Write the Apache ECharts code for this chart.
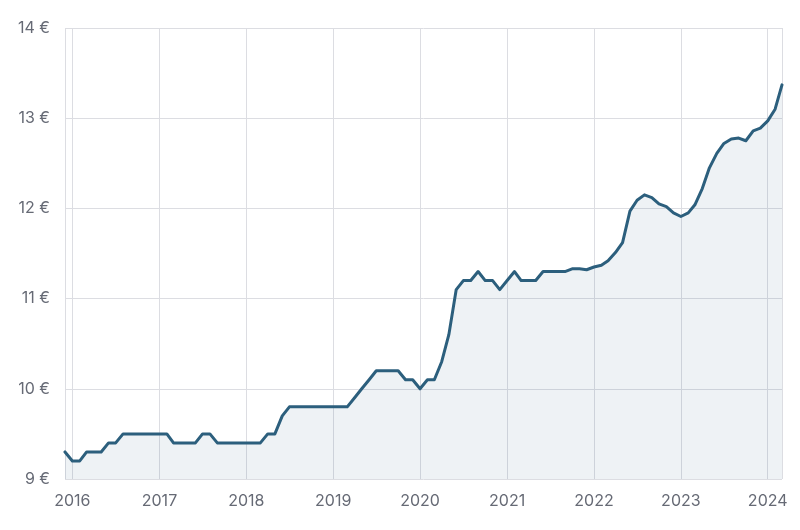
<!DOCTYPE html>
<html>
<head>
<meta charset="utf-8">
<script src="https://cdn.jsdelivr.net/npm/echarts@6/dist/echarts.min.js"></script>
<style>html,body{margin:0;padding:0;background:#fff}#c{width:800px;height:530px}</style>
</head>
<body>
<div id="c"></div>
<script>
// Monthly data, Dec 2015 .. Mar 2024
var startYear = 2015, startMonth = 12, monthCount = 100;
var values = [
  9.3,
  9.2, 9.2, 9.3, 9.3, 9.3, 9.4, 9.4, 9.5, 9.5, 9.5, 9.5, 9.5,
  9.5, 9.5, 9.4, 9.4, 9.4, 9.4, 9.5, 9.5, 9.4, 9.4, 9.4, 9.4,
  9.4, 9.4, 9.4, 9.5, 9.5, 9.7, 9.8, 9.8, 9.8, 9.8, 9.8, 9.8,
  9.8, 9.8, 9.8, 9.9, 10.0, 10.1, 10.2, 10.2, 10.2, 10.2, 10.1, 10.1,
  10.0, 10.1, 10.1, 10.3, 10.6, 11.1, 11.2, 11.2, 11.3, 11.2, 11.2, 11.1,
  11.2, 11.3, 11.2, 11.2, 11.2, 11.3, 11.3, 11.3, 11.3, 11.33, 11.33, 11.32,
  11.35, 11.37, 11.42, 11.51, 11.62, 11.97, 12.09, 12.15, 12.12, 12.05, 12.02, 11.95,
  11.91, 11.95, 12.04, 12.22, 12.45, 12.61, 12.72, 12.77, 12.78, 12.75, 12.86, 12.89,
  12.97, 13.1, 13.37
];
var yTicks = [9, 10, 11, 12, 13, 14];

var dates = [];
for (var i = 0; i < monthCount; i++) {
  var m = startMonth - 1 + i;
  var y = startYear + Math.floor(m / 12);
  var mm = (m % 12) + 1;
  dates.push(y + '-' + (mm < 10 ? '0' + mm : mm) + '-01');
}
var seriesData = dates.map(function (d, i) { return [d, values[i]]; });

var chart = echarts.init(document.getElementById('c'), null, {renderer: 'canvas'});
var YEAR = 365.25 * 24 * 3600 * 1000;
chart.setOption({
  animation: false,
  grid: {left: 65, right: 18, top: 28, bottom: 51, containLabel: false},
  xAxis: {
    type: 'time',
    min: dates[0],
    max: dates[dates.length - 1],
    minInterval: YEAR,
    maxInterval: YEAR,
    splitNumber: 9,
    axisLine: {show: false},
    axisTick: {show: false},
    axisLabel: {
      formatter: '{yyyy}',
      color: '#666a75',
      fontFamily: 'Inter',
      fontSize: 16,
      margin: 14,
      hideOverlap: false
    },
    splitLine: {show: true, lineStyle: {color: '#dcdde2', width: 1}}
  },
  yAxis: {
    type: 'value',
    min: yTicks[0],
    max: yTicks[yTicks.length - 1],
    interval: 1,
    axisLine: {show: false},
    axisTick: {show: false},
    axisLabel: {
      formatter: '{value} €',
      color: '#666a75',
      fontFamily: 'Inter',
      fontSize: 16,
      margin: 15
    },
    splitLine: {show: true, lineStyle: {color: '#dcdde2', width: 1}}
  },
  series: [{
    type: 'line',
    data: seriesData,
    showSymbol: false,
    symbol: 'none',
    smooth: false,
    lineStyle: {color: '#2c5f7d', width: 3, join: 'round', cap: 'round'},
    areaStyle: {color: 'rgba(44,95,125,0.11)', origin: 'start'}
  }]
});
</script>
</body>
</html>
